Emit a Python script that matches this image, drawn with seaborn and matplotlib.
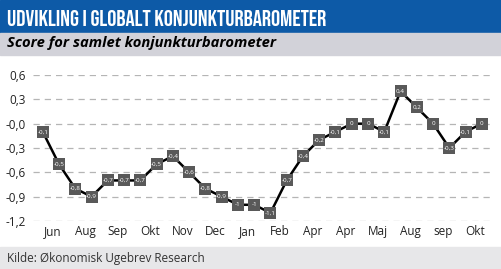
import matplotlib
matplotlib.use("Agg")
import matplotlib.pyplot as plt
import seaborn as sns
import pandas as pd
from matplotlib.patches import Rectangle

values = [-0.1, -0.5, -0.8, -0.9, -0.7, -0.7, -0.7, -0.5, -0.4, -0.6, -0.8, -0.9, -1.0, -1.0,
          -1.1, -0.7, -0.4, -0.2, -0.1, 0.0, 0.0, -0.1, 0.4, 0.2, 0.0, -0.3, -0.1, 0.0]
tick_labels = ["Jun", "Aug", "Sep", "Okt", "Nov", "Dec", "Jan", "Feb", "Apr", "Apr",
               "Maj", "Aug", "sep", "Okt"]
y_ticks = [0.6, 0.3, 0.0, -0.3, -0.6, -0.9, -1.2]
y_tick_labels = ["0,6", "0,3", "-0,0", "-0,3", "-0,6", "-0,9", "-1,2"]
title = "UDVIKLING I GLOBALT KONJUNKTURBAROMETER"
subtitle = "Score for samlet konjunkturbarometer"
source = "Kilde: Økonomisk Ugebrev Research"

sns.set_style("white")
plt.rcParams['font.family'] = ['Open Sans', 'DejaVu Sans']

df = pd.DataFrame({"idx": range(len(values)), "value": values})

fig = plt.figure(figsize=(5.02, 2.69), dpi=100)
W, H = 502, 269

def fy(px):
    return 1 - px / H

# header bars
fig.patches.append(Rectangle((0, fy(33)), 1, 33 / H, transform=fig.transFigure,
                             color="#0d5aa7", zorder=0))
fig.patches.append(Rectangle((0, fy(55)), 1, 22 / H, transform=fig.transFigure,
                             color="#d2d2d9", zorder=0))
fig.patches.append(Rectangle((0, 0), 1, 22 / H, transform=fig.transFigure,
                             color="#e7e7e9", zorder=0))

fig.text(7 / W, fy(26), title, color="white", fontsize=16.5,
         family=["Bebas Neue", "Oswald", "Roboto Condensed", "DejaVu Sans"],
         va="baseline", ha="left")
fig.text(7 / W, fy(47), subtitle, color="black", fontsize=10.6, fontweight="bold",
         fontstyle="italic", va="baseline", ha="left")
fig.text(7 / W, fy(262), source, color="#333333", fontsize=8.5, va="baseline", ha="left")

ax = fig.add_axes([33 / W, 1 - 221 / H, 457 / W, 146 / H])
ax.set_facecolor("none")

sns.lineplot(data=df, x="idx", y="value", ax=ax, color="black", linewidth=1.8,
             marker="s", markersize=9, markerfacecolor="#595959",
             markeredgecolor="#595959", markeredgewidth=0, clip_on=False, zorder=3)

def fmt(v):
    if abs(v - round(v)) < 1e-9:
        return str(int(round(v)))
    return f"{v:.1f}".replace(".", ",")

for i, v in enumerate(values):
    ax.text(i, v, fmt(v), color="white", fontsize=4.5, ha="center", va="center",
            zorder=5, clip_on=False)

ax.set_xlim(-0.6, len(values) - 0.5)
ax.set_ylim(-1.2, 0.6)
ax.set_yticks(y_ticks)
ax.set_yticklabels(y_tick_labels, fontsize=8.5, color="#222222")
ax.set_xticks([2 * i + 0.6 for i in range(len(tick_labels))])
ax.set_xticklabels(tick_labels, fontsize=8.5, color="#222222")
ax.tick_params(axis="both", length=0)
ax.tick_params(axis="y", pad=5)
ax.tick_params(axis="x", pad=3)
ax.set_xlabel("")
ax.set_ylabel("")
for s in ax.spines.values():
    s.set_visible(False)
ax.grid(axis="y", color="#b5b5b5", linestyle=(0, (5, 4)), linewidth=0.9)
ax.grid(axis="x", visible=False)
ax.set_axisbelow(True)

fig.savefig("out.png", dpi=100)
